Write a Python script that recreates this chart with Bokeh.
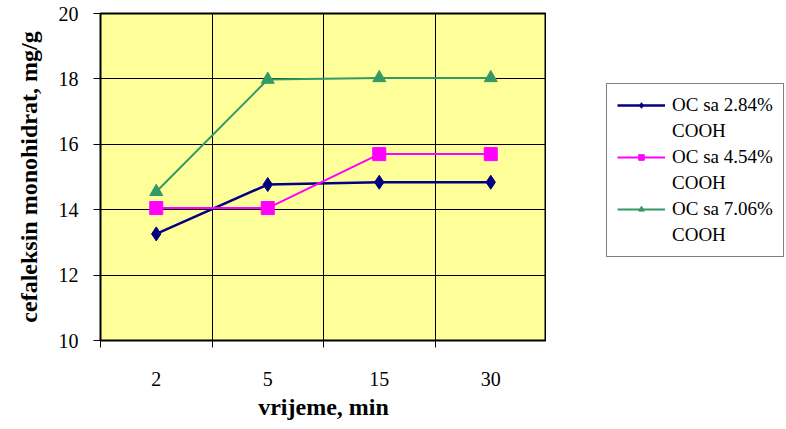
from bokeh.plotting import figure
from bokeh.models import FixedTicker, Legend, LegendItem
from bokeh.layouts import row
from bokeh.embed import file_html
from bokeh.resources import INLINE

# Sampling times (min) and adsorbed amount (mg/g) per oxidised-cellulose sample
times = ["2", "5", "15", "30"]
oc_284 = [13.26, 14.77, 14.84, 14.84]
oc_454 = [14.05, 14.05, 15.70, 15.70]
oc_706 = [14.55, 17.98, 18.03, 18.03]
series_names = ["OC sa 2.84%", "OC sa 4.54%", "OC sa 7.06%"]
series_colors = ["#000080", "#FF00FF", "#339966"]
series_markers = ["diamond", "square", "triangle"]
y_ticks = [10, 12, 14, 16, 18, 20]

FONT = "Liberation Serif"

# Each time point sits in the middle of its own category slot
x_pos = [i + 0.5 for i in range(len(times))]
slot_edges = list(range(len(times) + 1))

p = figure(width=546, height=429, x_range=(0, len(times)), y_range=(10, 20),
           output_backend="svg", toolbar_location=None,
           min_border_left=100, min_border_right=0,
           min_border_top=13, min_border_bottom=89)

p.background_fill_color = "#FFFF99"
p.border_fill_color = "white"
p.outline_line_color = "black"
p.outline_line_width = 2

# x axis: labels centred in slots, tick marks at slot edges
p.xaxis.ticker = FixedTicker(ticks=x_pos, minor_ticks=slot_edges)
p.xaxis.major_label_overrides = {x: t for x, t in zip(x_pos, times)}
p.xaxis.major_tick_line_color = None
p.xaxis.major_tick_out = 0
p.xaxis.major_tick_in = 0
p.xaxis.minor_tick_line_color = "black"
p.xaxis.minor_tick_out = 7
p.xaxis.minor_tick_in = 0
p.xaxis.major_label_standoff = 24
p.xaxis.axis_label = "vrijeme, min"
p.xaxis.axis_label_standoff = 5
p.xgrid.ticker = FixedTicker(ticks=slot_edges)

# y axis
p.yaxis.ticker = FixedTicker(ticks=y_ticks)
p.yaxis.minor_tick_line_color = None
p.yaxis.major_tick_line_color = "black"
p.yaxis.major_tick_out = 7
p.yaxis.major_tick_in = 0
p.yaxis.major_label_standoff = 15
p.yaxis.axis_label = "cefaleksin monohidrat, mg/g"
p.yaxis.axis_label_standoff = 14

for ax in (p.xaxis, p.yaxis):
    ax.axis_line_color = "black"
    ax.axis_line_width = 1
    ax.major_label_text_font = FONT
    ax.major_label_text_font_size = "20px"
    ax.major_label_text_color = "black"
    ax.axis_label_text_font = FONT
    ax.axis_label_text_font_style = "bold"
    ax.axis_label_text_color = "black"
    ax.axis_label_text_font_size = "24px"

for g in (p.xgrid, p.ygrid):
    g.grid_line_color = "black"
    g.grid_line_width = 1

# data series
series = [oc_284, oc_454, oc_706]
line_widths = [2.5, 2, 2]
marker_sizes = [14, 13, 13]
for ys, c, mk, lw, ms in zip(series, series_colors, series_markers,
                             line_widths, marker_sizes):
    p.line(x_pos, ys, line_color=c, line_width=lw)
    p.scatter(x_pos, ys, marker=mk, size=ms, color=c)

# Legend panel to the right of the plot; its view range lies away from
# the data, so only the legend itself is visible there
lp = figure(width=240, height=429, x_range=(100, 101), y_range=(100, 101),
            x_axis_type=None, y_axis_type=None,
            output_backend="svg", toolbar_location=None,
            min_border=0, outline_line_color=None)
lp.grid.visible = False
lp.border_fill_color = "white"
lp.background_fill_color = "white"

items = []
for name, ys, c, mk, lw in zip(series_names, series, series_colors,
                               series_markers, line_widths):
    ln = lp.line(x_pos, ys, line_color=c, line_width=lw)
    sc = lp.scatter(x_pos, ys, marker=mk, size=9, color=c)
    items.append(LegendItem(label=name, renderers=[ln, sc]))
    # second text line of the entry, without a glyph
    blank = lp.line(x_pos, ys, line_alpha=0)
    items.append(LegendItem(label="COOH", renderers=[blank]))

legend = Legend(items=items, location=(60, 83),
                label_text_font=FONT, label_text_font_size="19px",
                label_text_color="black",
                glyph_width=48, glyph_height=14, label_height=14,
                label_standoff=7, spacing=4, padding=10,
                border_line_color="black", border_line_width=1,
                background_fill_color="white", background_fill_alpha=1)
lp.add_layout(legend, "center")

layout = row(p, lp)
open("out.html", "w").write(file_html(layout, INLINE))
